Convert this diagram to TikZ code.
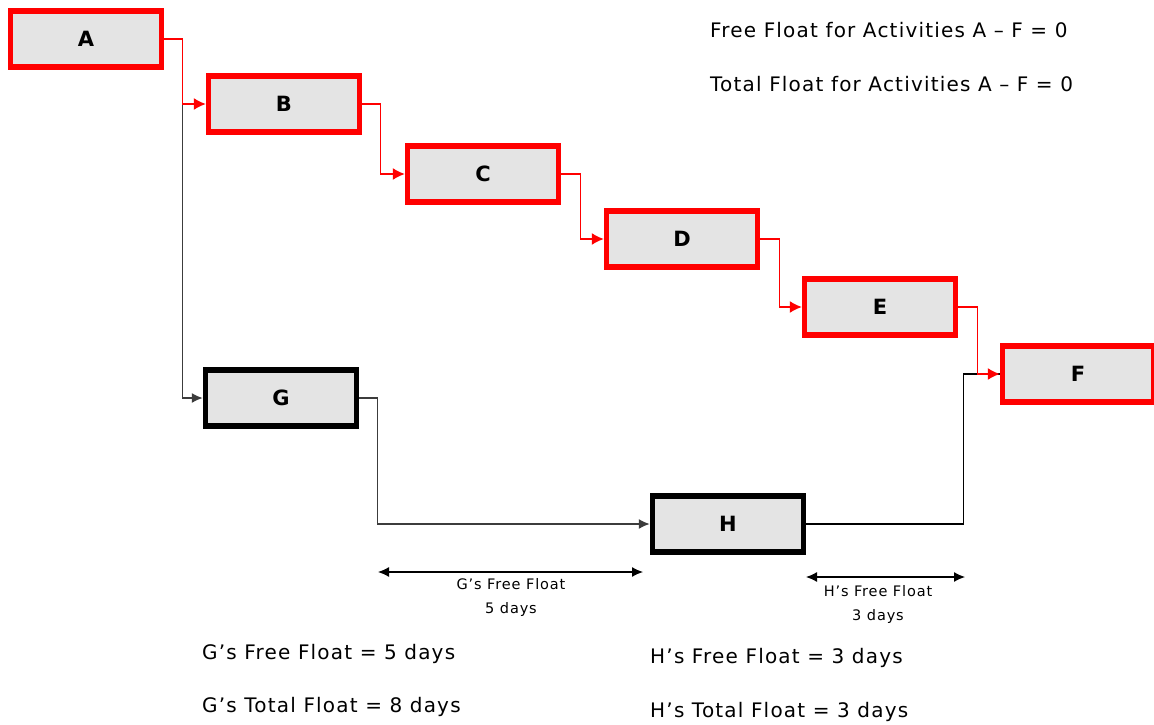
\documentclass[tikz,border=0pt]{standalone}
\usepackage{fontspec}
\setmainfont{DejaVu Sans}
\newfontfamily\notefont{DejaVu Sans}[LetterSpace=6]
\usetikzlibrary{arrows.meta}

\definecolor{boxgray}{RGB}{228,228,228}
\definecolor{critred}{RGB}{255,0,0}
\definecolor{linegray}{RGB}{60,60,60}

\begin{document}
\begin{tikzpicture}[x=1pt,y=-1pt,
    activity/.style={draw=black,line width=5.5pt,fill=boxgray,
      minimum width=151pt,minimum height=56pt,inner sep=0pt,
      font=\fontsize{21}{24}\selectfont\bfseries},
    critical/.style={activity,draw=critred},
    critlink/.style={draw=critred,line width=1.3pt,-{Latex[length=12pt,width=12pt]}},
    link/.style={draw=linegray,line width=1.5pt,-{Latex[length=11pt,width=10pt]}},
    span/.style={draw=black,line width=1.2pt,{Latex[length=11pt,width=10pt]}-{Latex[length=11pt,width=10pt]}},
    note/.style={anchor=base west,inner sep=0pt,font=\notefont\fontsize{20}{22}\selectfont},
    spannote/.style={anchor=north,inner sep=0pt,align=center,
      font=\notefont\fontsize{14.5}{24}\selectfont}]
  \useasboundingbox[fill=white] (0,0) rectangle (1154,725);

  % activities
  \node[critical] (A) at (86,39)   {A};
  \node[critical] (B) at (284,104) {B};
  \node[critical] (C) at (483,174) {C};
  \node[critical] (D) at (682,239) {D};
  \node[critical] (E) at (880,307) {E};
  \node[critical] (F) at (1078,374) {F};
  \node[activity] (G) at (281,398) {G};
  \node[activity] (H) at (728,524) {H};

  % non-critical path first, the red one goes over it
  \draw[link] (A.east) -- ++(18,0) |- (G.west);
  \draw[link] (G.east) -- ++(18,0) |- (H.west);
  \draw[draw=black,line width=1.5pt] (H.east) -- ++(157,0) |- (F.west);

  % critical path
  \draw[critlink] (A.east) -- ++(18,0) |- (B.west);
  \draw[critlink] (B.east) -- ++(18,0) |- (C.west);
  \draw[critlink] (C.east) -- ++(19,0) |- (D.west);
  \draw[critlink] (D.east) -- ++(19,0) |- (E.west);
  \draw[critlink] (E.east) -- ++(19,0) |- (F.west);

  % free float spans
  \coordinate (g1) at (378,572);
  \coordinate (g2) at (643,572);
  \coordinate (h1) at (806,577);
  \coordinate (h2) at (965,577);
  \draw[span] (g1) -- (g2);
  \draw[span] (h1) -- (h2);
  \node[spannote] (gspan) at (511,578) {G’s Free Float\\5 days};
  \node[spannote] (hspan) at (878,585) {H’s Free Float\\3 days};

  % float notes
  \node[note] (ff) at (710,38) {Free Float for Activities A – F = 0};
  \node[note] (tf) at (710,92) {Total Float for Activities A – F = 0};
  \node[note] (gff) at (202,659) {G’s Free Float = 5 days};
  \node[note] (gtf) at (202,712) {G’s Total Float = 8 days};
  \node[note] (hff) at (650,663) {H’s Free Float = 3 days};
  \node[note] (htf) at (650,717) {H’s Total Float = 3 days};
\end{tikzpicture}
\end{document}
